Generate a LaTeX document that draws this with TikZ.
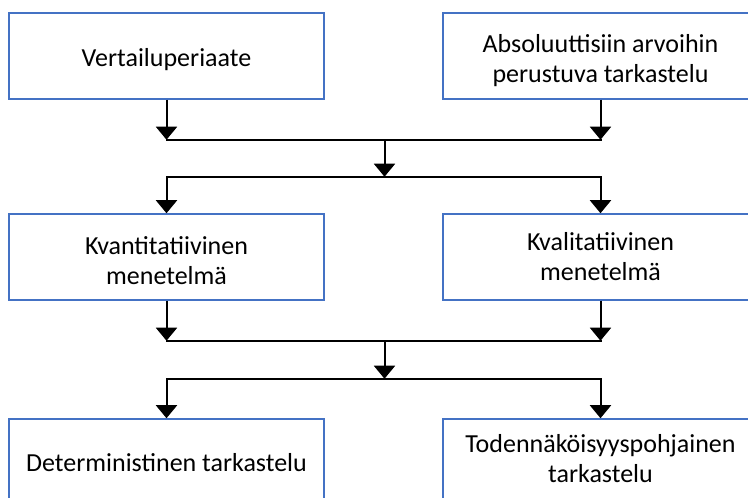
\documentclass[tikz,border=0pt]{standalone}
\usepackage{fontspec}
\setmainfont{Carlito}
\usetikzlibrary{arrows.meta, positioning, calc}
\definecolor{boxblue}{RGB}{68,114,196}

\begin{document}
\begin{tikzpicture}[x=1pt, y=1pt,
    box/.style={draw=boxblue, line width=1.5pt, fill=white,
      minimum width=315pt, minimum height=86pt, inner sep=0pt,
      align=center, font=\fontsize{26}{30}\selectfont},
    arr/.style={-{Triangle[width=21pt, length=13pt]}, line width=2pt},
    link/.style={line width=2pt, line cap=rect}]
  \useasboundingbox (0,0) rectangle (748,498);
  \clip (0,0) rectangle (748,498);

  % Top row
  \node[box, text height=22pt, text depth=0pt] (vert) at (166.5,442) {Vertailuperiaate};
  \node[box, text height=54pt, text depth=0pt] (abso) at (600.5,442) {Absoluuttisiin arvoihin\\perustuva tarkastelu};

  % Middle row
  \node[box, text height=56pt, text depth=0pt] (kvan) at (166.5,241) {Kvantitatiivinen\\menetelmä};
  \node[box, text height=48pt, text depth=0pt] (kval) at (600.5,241) {Kvalitatiivinen\\menetelmä};

  % Bottom row
  \node[box, text height=20pt, text depth=0pt] (dete) at (166.5,36) {Deterministinen tarkastelu};
  \node[box, text height=42pt, text depth=0pt] (tode) at (600.5,36) {Todennäköisyyspohjainen\\tarkastelu};

  % Junction points, upper
  \coordinate (a1) at ($(vert.south)+(0,-40)$);
  \coordinate (b1) at ($(abso.south)+(0,-40)$);
  \coordinate (c1) at ($(a1)!0.5!(b1)+(1,0)$);
  \coordinate (a2) at ($(a1)+(0,-37)$);
  \coordinate (b2) at ($(b1)+(0,-37)$);
  \coordinate (c2) at ($(c1)+(0,-37)$);

  % Junction points, lower
  \coordinate (a3) at ($(kvan.south)+(0,-40)$);
  \coordinate (b3) at ($(kval.south)+(0,-40)$);
  \coordinate (c3) at ($(a3)!0.5!(b3)+(1,0)$);
  \coordinate (a4) at ($(a3)+(0,-38)$);
  \coordinate (b4) at ($(b3)+(0,-38)$);
  \coordinate (c4) at ($(c3)+(0,-38)$);

  % Upper connectors
  \draw[arr] (vert.south) -- (a1);
  \draw[arr] (abso.south) -- (b1);
  \draw[link] (a1) -- (b1);
  \draw[arr] (c1) -- (c2);
  \draw[link] (a2) -- (b2);
  \draw[arr] (a2) -- (kvan.north);
  \draw[arr] (b2) -- (kval.north);

  % Lower connectors
  \draw[arr] (kvan.south) -- (a3);
  \draw[arr] (kval.south) -- (b3);
  \draw[link] (a3) -- (b3);
  \draw[arr] (c3) -- (c4);
  \draw[link] (a4) -- (b4);
  \draw[arr] (a4) -- (dete.north);
  \draw[arr] (b4) -- (tode.north);
\end{tikzpicture}
\end{document}
